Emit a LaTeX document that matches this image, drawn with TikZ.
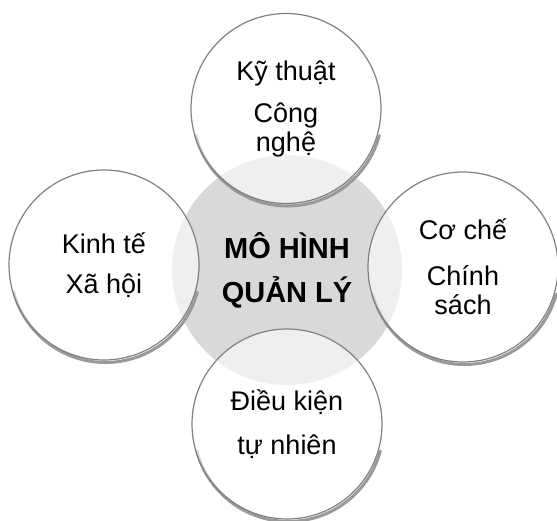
\documentclass[tikz,border=0pt]{standalone}
\usepackage{fontspec}
\setmainfont{Liberation Sans}
\begin{document}
\begin{tikzpicture}[x=1pt,y=1pt,
    hub/.style={circle, fill=black!15, minimum size=230pt, inner sep=0pt,
      align=center, font=\fontsize{29}{29}\selectfont\bfseries},
    spoke/.style={circle, draw=black!50, line width=1.2pt, fill=white,
      fill opacity=0.6, text opacity=1, minimum size=190pt, inner sep=0pt,
      align=center, font=\fontsize{27}{29}\selectfont},
    rim/.style={black!40, line width=3pt, line cap=round}]
    \useasboundingbox (0,0) rectangle (557,520);
    \clip (0,0) rectangle (557,520);
    \node[hub] (hub) at (287,250) {MÔ HÌNH\\[15pt]QUẢN LÝ};
    % shadows under the four circles
    \foreach \pos in {(286,411.5),(104,255),(463,253),(287,96)}
        \draw[rim] \pos ++(1.5,-2.5) ++(195:95) arc[start angle=195, end angle=345, radius=95];
    \node[spoke] (tech) at (286,411.5) {Kỹ thuật\\[13pt]Công\\nghệ};
    \node[spoke] (econ) at (104,255) {Kinh tế\\[11pt]Xã hội};
    \node[spoke] (policy) at (463,253) {Cơ chế\\[17pt]Chính\\sách};
    \node[spoke] (nature) at (287,96) {Điều kiện\\[15pt]tự nhiên};
\end{tikzpicture}
\end{document}
